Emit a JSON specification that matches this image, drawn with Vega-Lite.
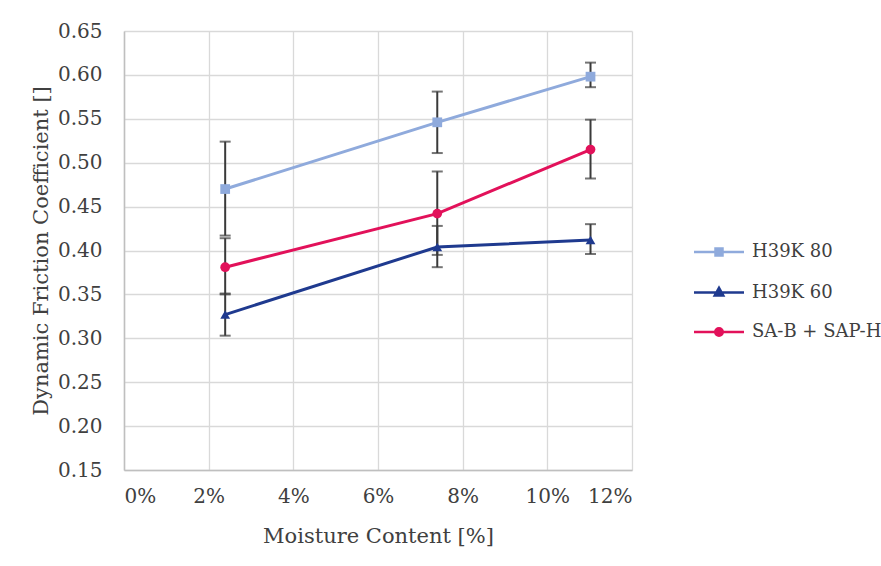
{
  "$schema": "https://vega.github.io/schema/vega-lite/v6.json",
  "autosize": "none",
  "width": 508,
  "height": 439,
  "padding": {"left": 124, "top": 31, "right": 249, "bottom": 96},
  "background": "white",
  "data": {
    "values": [
      {"series": "H39K 80", "moisture": 0.0239, "cof": 0.470, "lo": 0.417, "hi": 0.524},
      {"series": "H39K 80", "moisture": 0.0740, "cof": 0.546, "lo": 0.511, "hi": 0.581},
      {"series": "H39K 80", "moisture": 0.1102, "cof": 0.598, "lo": 0.586, "hi": 0.614},
      {"series": "H39K 60", "moisture": 0.0239, "cof": 0.327, "lo": 0.303, "hi": 0.351},
      {"series": "H39K 60", "moisture": 0.0740, "cof": 0.404, "lo": 0.381, "hi": 0.428},
      {"series": "H39K 60", "moisture": 0.1102, "cof": 0.412, "lo": 0.396, "hi": 0.430},
      {"series": "SA-B + SAP-H", "moisture": 0.0239, "cof": 0.381, "lo": 0.350, "hi": 0.414},
      {"series": "SA-B + SAP-H", "moisture": 0.0740, "cof": 0.442, "lo": 0.395, "hi": 0.490},
      {"series": "SA-B + SAP-H", "moisture": 0.1102, "cof": 0.515, "lo": 0.482, "hi": 0.549}
    ]
  },
  "config": {
    "view": {"stroke": null},
    "font": "DejaVu Serif",
    "axis": {
      "labelFont": "DejaVu Serif",
      "labelFontSize": 20,
      "labelColor": "#404040",
      "titleFont": "DejaVu Serif",
      "titleFontSize": 21,
      "titleFontWeight": "normal",
      "titleColor": "#404040",
      "gridColor": "#d9d9d9",
      "gridWidth": 1.3,
      "domainColor": "#bfbfbf",
      "domainWidth": 1.5,
      "ticks": false
    },
    "legend": {
      "labelFont": "DejaVu Serif",
      "labelFontSize": 18,
      "labelColor": "#404040",
      "labelLimit": 200
    }
  },
  "layer": [
    {
      "mark": {"type": "line", "strokeWidth": 3},
      "encoding": {
        "x": {
          "field": "moisture", "type": "quantitative",
          "scale": {"domain": [0, 0.12], "nice": false, "zero": false},
          "axis": {
            "values": [0, 0.02, 0.04, 0.06, 0.08, 0.1, 0.12],
            "format": ".0%",
            "labelPadding": 16,
            "title": "Moisture Content [%]",
            "titlePadding": 19
          }
        },
        "y": {
          "field": "cof", "type": "quantitative",
          "scale": {"domain": [0.15, 0.65], "nice": false, "zero": false},
          "axis": {
            "values": [0.15, 0.2, 0.25, 0.3, 0.35, 0.4, 0.45, 0.5, 0.55, 0.6, 0.65],
            "format": ".2f",
            "labelPadding": 22,
            "title": "Dynamic Friction Coefficient []",
            "titlePadding": 6
          }
        },
        "color": {
          "field": "series", "type": "nominal",
          "scale": {"domain": ["H39K 80", "H39K 60", "SA-B + SAP-H"], "range": ["#8faadc", "#1f3a8f", "#e2115a"]}
        },
        "detail": {"field": "series"}
      }
    },
    {
      "mark": {"type": "errorbar", "ticks": {"size": 11}, "color": "#3a3a3a", "thickness": 2},
      "encoding": {
        "x": {"field": "moisture", "type": "quantitative"},
        "y": {"field": "lo", "type": "quantitative", "title": "Dynamic Friction Coefficient []"},
        "y2": {"field": "hi"}
      }
    },
    {
      "mark": {"type": "point", "filled": true, "opacity": 1, "size": 95},
      "encoding": {
        "x": {"field": "moisture", "type": "quantitative"},
        "y": {"field": "cof", "type": "quantitative", "title": "Dynamic Friction Coefficient []"},
        "color": {
          "field": "series", "type": "nominal",
          "legend": {
            "title": null,
            "orient": "none",
            "legendX": 586,
            "legendY": 212,
            "padding": 0,
            "rowPadding": 21.5,
            "labelOffset": 24,
            "symbolSize": 100,
            "symbolStrokeWidth": 2.5,
            "symbolType": {"expr": "datum.value === 'H39K 80' ? 'M-5,0H5M-0.7,-0.7H0.7V0.7H-0.7Z' : datum.value === 'H39K 60' ? 'M-5,0H5M0,-0.95L0.85,0.6L-0.85,0.6Z' : 'M-5,0H5M0.75,0A0.75,0.75,0,1,1,-0.75,0A0.75,0.75,0,1,1,0.75,0Z'"},
            "encode": {
              "symbols": {
                "stroke": {"value": {"expr": "scale('color', datum.value)"}},
                "fill": {"value": {"expr": "scale('color', datum.value)"}},
                "size": {"value": 100},
                "opacity": {"value": 1}
              }
            }
          }
        },
        "shape": {
          "field": "series", "type": "nominal",
          "scale": {"domain": ["H39K 60", "H39K 80", "SA-B + SAP-H"], "range": ["triangle-up", "square", "circle"]},
          "legend": null
        }
      }
    }
  ]
}
